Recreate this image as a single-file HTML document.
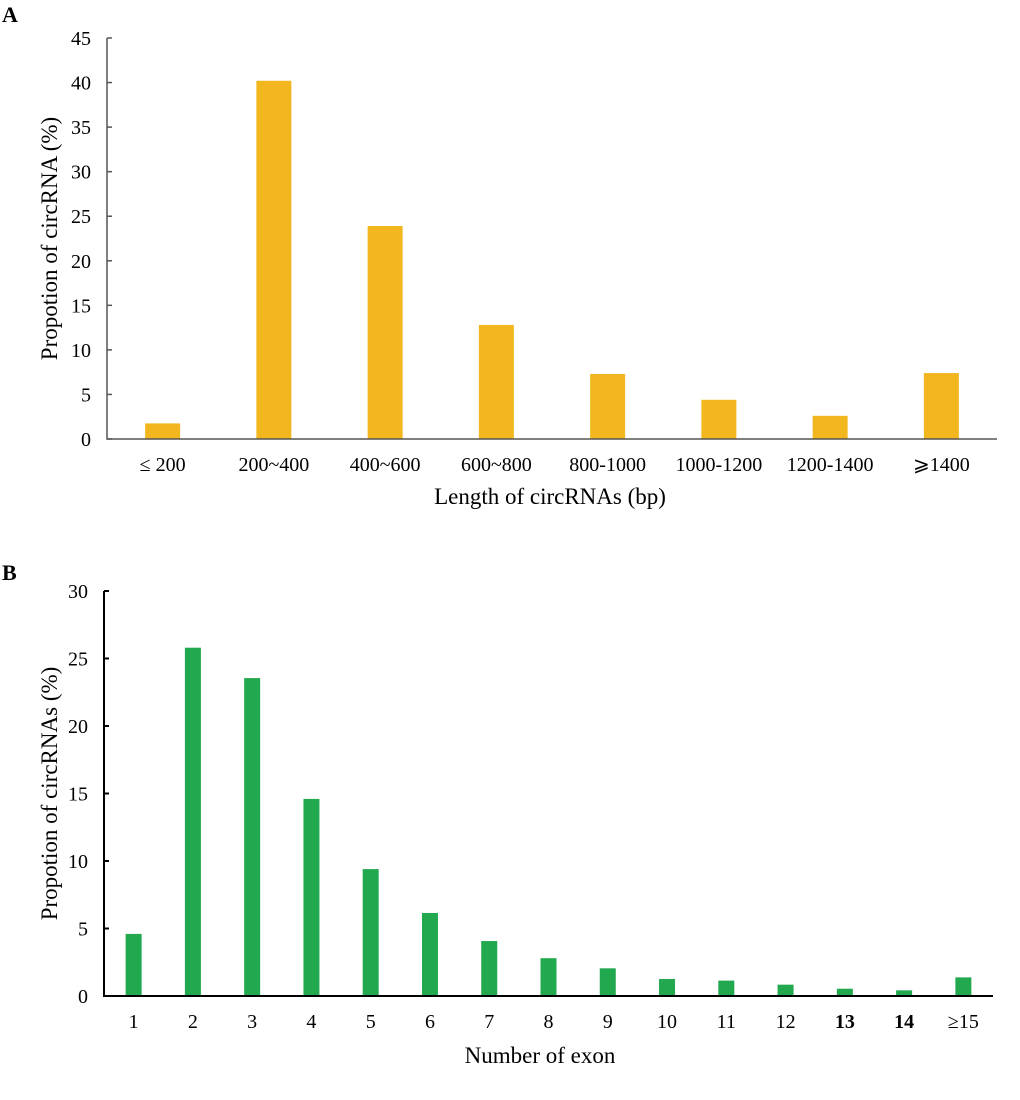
<!DOCTYPE html>
<html><head><meta charset="utf-8"><style>
body{margin:0;background:#fff;width:1020px;height:1095px;overflow:hidden}
svg{font-family:"Liberation Serif","Times New Roman",serif}
</style></head><body>
<svg id="s" width="1020" height="1095">
<text x="2" y="22" font-size="22" font-weight="bold">A</text>
<text x="2" y="580" font-size="22" font-weight="bold">B</text>
<g id="ga"></g>
<g id="gb"></g>
</svg>
<script>
const catsA=["≤ 200","200~400","400~600","600~800","800-1000","1000-1200","1200-1400","⩾1400"];
const valsA=[1.75,40.2,23.9,12.8,7.3,4.4,2.6,7.4];
const ticksA=[0,5,10,15,20,25,30,35,40,45];
const catsB=["1","2","3","4","5","6","7","8","9","10","11","12","13","14","≥15"];
const valsB=[4.6,25.8,23.55,14.6,9.4,6.15,4.07,2.8,2.05,1.26,1.14,0.84,0.54,0.42,1.38];
const ticksB=[0,5,10,15,20,25,30];
const NS="http://www.w3.org/2000/svg";
function mk(p,t,a,txt){const e=document.createElementNS(NS,t);for(const k in a)e.setAttribute(k,a[k]);if(txt!=null)e.textContent=txt;p.appendChild(e);return e;}
function draw(g,o){
  const y=v=>o.y0-(v/o.max)*(o.y0-o.y1);
  const band=(o.x1-o.x0)/o.cats.length;
  const x=i=>o.x0+band*(i+0.5);
  o.vals.forEach((v,i)=>{
    const r=mk(g,"rect",{x:x(i)-o.bw/2,y:y(v),width:o.bw,height:o.y0-y(v),fill:o.color});
    
    
  });
  const ax=mk(g,"path",{d:`M${o.x0},${o.y1}V${o.y0}H${o.x1}`,fill:"none",stroke:o.axc,"stroke-width":o.aw});
  
  
  o.ticks.forEach(t=>{
    mk(g,"line",{x1:o.x0,x2:o.x0+5,y1:y(t),y2:y(t),stroke:o.axc,"stroke-width":o.aw});
    const tl=mk(g,"text",{x:o.x0-16,y:y(t)+7,"text-anchor":"end","font-size":20},t);
    
    
  });
  o.cats.forEach((c,i)=>{
    const bold=o.bold&&o.bold.includes(c);
    const tl=mk(g,"text",{x:x(i),y:o.y0+32,"text-anchor":"middle","font-size":20,"font-weight":bold?"bold":"normal"},c);
    
    
  });
  const xt=mk(g,"text",{x:o.xtx,y:o.xty,"text-anchor":"middle","font-size":o.tfs},o.xt);
  
  
  const yt=mk(g,"text",{x:0,y:0,"text-anchor":"middle","font-size":o.tfs,transform:`translate(${o.ytx},${(o.y0+o.y1)/2}) rotate(-90)`},o.yt);
  
  
}
draw(document.getElementById("ga"),{id:"a",cats:catsA,vals:valsA,ticks:ticksA,max:45,x0:107,x1:997,y0:439,y1:38,bw:35,color:"#F2B71E",axc:"#555",aw:1.5,tfs:23,xt:"Length of circRNAs (bp)",xtx:550,xty:504,yt:"Propotion of circRNA (%)",ytx:57});
draw(document.getElementById("gb"),{id:"b",cats:catsB,vals:valsB,ticks:ticksB,max:30,x0:104,x1:993,y0:996,y1:591,bw:16,color:"#22A84F",axc:"#000",aw:2,tfs:23,bold:["13","14"],xt:"Number of exon",xtx:540,xty:1063,yt:"Propotion of circRNAs (%)",ytx:57});
</script>
</body></html>
